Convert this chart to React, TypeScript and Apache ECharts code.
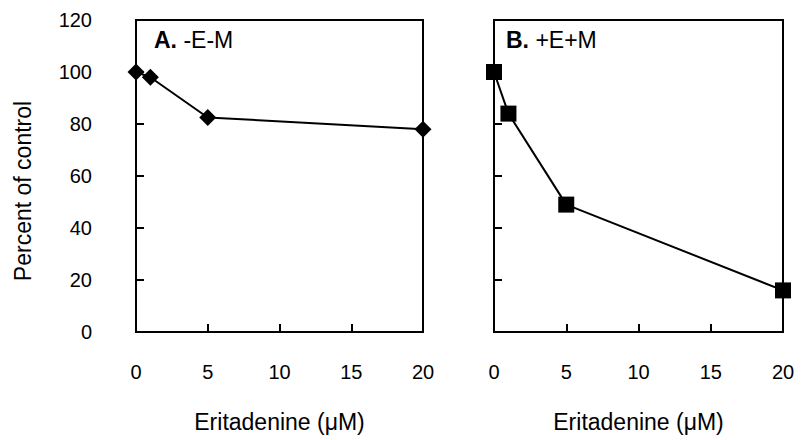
import React, { useEffect, useRef } from "react";
import * as echarts from "echarts";

const xTicks = [0, 5, 10, 15, 20];
const doseA = [0, 1, 5, 20];
const valuesA = [100, 98, 82.5, 78];
const doseB = [0, 1, 5, 20];
const valuesB = [100, 84, 49, 16];
const panelLabels = ["A.", "-E-M", "B.", "+E+M"];
const yTitle = "Percent of control";
const xTitle = "Eritadenine (\u03bcM)";

const FONT = "'Liberation Sans', Arial, Helvetica, sans-serif";

export default function App() {
  const ref = useRef<HTMLDivElement>(null);
  useEffect(() => {
    if (!ref.current) return;
    const chart = echarts.init(ref.current, undefined, { renderer: "svg" });
    const axisLine = { show: true, lineStyle: { color: "#000", width: 2 } };
    const axisTick = { show: true, inside: true, length: 8, lineStyle: { color: "#000", width: 2 } };
    const mkX = (gridIndex: number) => ({
      type: "value",
      gridIndex,
      min: xTicks[0],
      max: xTicks[xTicks.length - 1],
      interval: 5,
      axisLine,
      axisTick,
      splitLine: { show: false },
      axisLabel: { margin: 30, fontSize: 20, color: "#000", fontFamily: FONT },
      name: xTitle,
      nameLocation: "middle",
      nameGap: 78,
      nameTextStyle: { fontSize: 23, color: "#000", fontFamily: FONT },
    });
    const mkY = (gridIndex: number, showLabel: boolean) => ({
      type: "value",
      gridIndex,
      min: 0,
      max: 120,
      interval: 20,
      axisLine,
      axisTick,
      splitLine: { show: false },
      axisLabel: { show: showLabel, margin: 44, fontSize: 20, color: "#000", fontFamily: FONT },
    });
    const labelStyle = (a: string, b: string) => ({
      text: `{b|${a}} ${b}`,
      rich: { b: { fontWeight: "bold", fontSize: 23, fontFamily: FONT, fill: "#000" } },
      fontSize: 23,
      fontFamily: FONT,
      fill: "#000",
    });
    chart.setOption({
      animation: false,
      backgroundColor: "#fff",
      grid: [
        { left: 136, top: 20, width: 287, height: 312, show: true, borderColor: "#000", borderWidth: 2 },
        { left: 494, top: 20, width: 289, height: 312, show: true, borderColor: "#000", borderWidth: 2 },
      ],
      xAxis: [mkX(0), mkX(1)],
      yAxis: [mkY(0, true), mkY(1, false)],
      graphic: [
        { type: "text", left: 154, top: 28, style: labelStyle(panelLabels[0], panelLabels[1]) },
        { type: "text", left: 506, top: 28, style: labelStyle(panelLabels[2], panelLabels[3]) },
        {
          type: "text",
          x: 23,
          y: 191,
          rotation: Math.PI / 2,
          style: {
            text: yTitle,
            fontSize: 23,
            fontFamily: FONT,
            fill: "#000",
            align: "center",
            verticalAlign: "middle",
          },
        },
      ],
      series: [
        {
          type: "line",
          xAxisIndex: 0,
          yAxisIndex: 0,
          data: doseA.map((d, i) => [d, valuesA[i]]),
          symbol: "diamond",
          symbolSize: 17,
          clip: false,
          lineStyle: { color: "#000", width: 2 },
          itemStyle: { color: "#000" },
        },
        {
          type: "line",
          xAxisIndex: 1,
          yAxisIndex: 1,
          data: doseB.map((d, i) => [d, valuesB[i]]),
          symbol: "rect",
          symbolSize: 16,
          clip: false,
          lineStyle: { color: "#000", width: 2 },
          itemStyle: { color: "#000" },
        },
      ],
    });
    return () => chart.dispose();
  }, []);
  return <div ref={ref} style={{ width: 801, height: 440, position: "absolute", left: 0, top: 0 }} />;
}
